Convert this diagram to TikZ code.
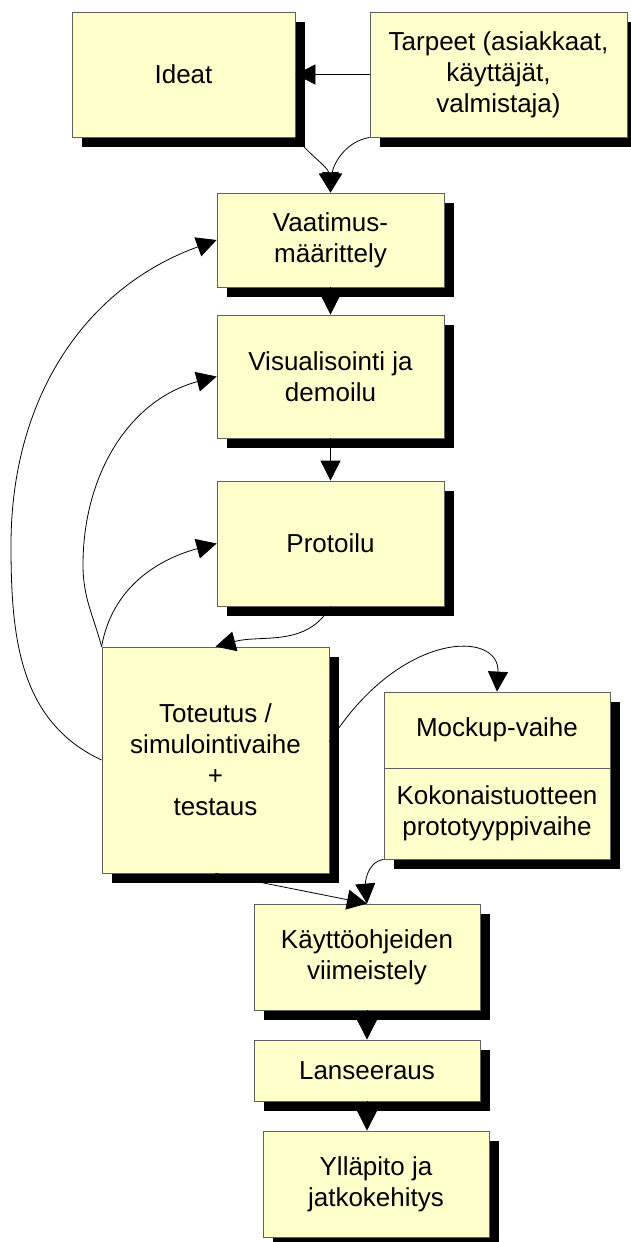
\documentclass[tikz,border=0pt]{standalone}
\usepackage{fontspec}
\setmainfont{Liberation Sans}
\usetikzlibrary{arrows.meta,shadows}
\definecolor{boxfill}{HTML}{FFFFCC}
\definecolor{boxline}{HTML}{606060}
\tikzset{
  box/.style={draw=boxline, line width=0.8pt, fill=boxfill, align=center,
    inner sep=2pt, font=\fontsize{26}{31}\selectfont,
    drop shadow={shadow xshift=10pt, shadow yshift=-10pt, fill=black, opacity=1}},
  flow/.style={line width=0.8pt, -{Triangle[length=20pt,width=20pt]}}
}
\begin{document}
\begin{tikzpicture}[x=1pt,y=-1pt]
\useasboundingbox (0,0) rectangle (630,1242);

% process stages
\node[box, minimum width=223pt, minimum height=125pt] (ideat) at (183.5,74.5) {Ideat};
\node[box, minimum width=257pt, minimum height=125pt] (tarpeet) at (498.5,74.5)
  {Tarpeet (asiakkaat,\\ käyttäjät,\\ valmistaja)};
\node[box, minimum width=227pt, minimum height=94pt] (vaatimus) at (330.5,240)
  {Vaatimus-\\ määrittely};
\node[box, minimum width=227pt, minimum height=123pt] (visual) at (330.5,376.5)
  {Visualisointi ja\\ demoilu};
\node[box, minimum width=227pt, minimum height=125pt] (proto) at (330.5,543.5)
  {Protoilu};
\node[box, minimum width=227pt, minimum height=226pt] (toteutus) at (215.5,760)
  {Toteutus /\\ simulointivaihe\\ +\\ testaus};
\node[box, minimum width=226pt, minimum height=76pt] (mockup) at (497,730)
  {Mockup-vaihe};
\node[box, minimum width=226pt, minimum height=91pt] (kokonais) at (497,813.5)
  {Kokonaistuotteen\\ prototyyppivaihe};
\node[box, minimum width=226pt, minimum height=106pt] (kaytto) at (367,957)
  {Käyttöohjeiden\\ viimeistely};
\node[box, minimum width=226pt, minimum height=61pt] (lanseeraus) at (367,1070.5)
  {Lanseeraus};
\node[box, minimum width=226pt, minimum height=106pt] (yllapito) at (376,1184)
  {Ylläpito ja\\ jatkokehitys};

% helper points on the left of the loops
\coordinate (outerbend) at (11,545);
\coordinate (innerbend) at (83,565);

% main flow
\draw[flow] (tarpeet.west) -- (ideat.east);
\draw[flow] (ideat.south east) to[out=-50,in=95] (vaatimus.north);
\draw[flow] (tarpeet.south west) to[out=190,in=85] (vaatimus.north);
\draw[flow] (vaatimus.south) -- (visual.north);
\draw[flow] (visual.south) -- (proto.north);
\draw[flow] (proto.south) to[out=-120,in=15] (toteutus.north);

% feedback loops from implementation
\draw[flow] (toteutus.west) to[out=155,in=-90] (outerbend)
  to[out=90,in=200] (vaatimus.west);
\draw[flow] (toteutus.north west) to[out=105,in=-90] (innerbend)
  to[out=90,in=195] (visual.west);
\draw[flow] (toteutus.north west) to[out=80,in=195] (proto.west);

% branch to the prototype phases
\draw[flow] ([yshift=18pt]toteutus.east) .. controls (400,630) and (500,630) .. (mockup.north);
\draw[flow] (kokonais.south west) to[out=190,in=95] (kaytto.north);
\draw[flow] (toteutus.south) -- (kaytto.north);

% final stages
\draw[flow] (kaytto.south) -- (lanseeraus.north);
\draw[flow] (lanseeraus.south) -- (lanseeraus.south |- yllapito.north);
\end{tikzpicture}
\end{document}
